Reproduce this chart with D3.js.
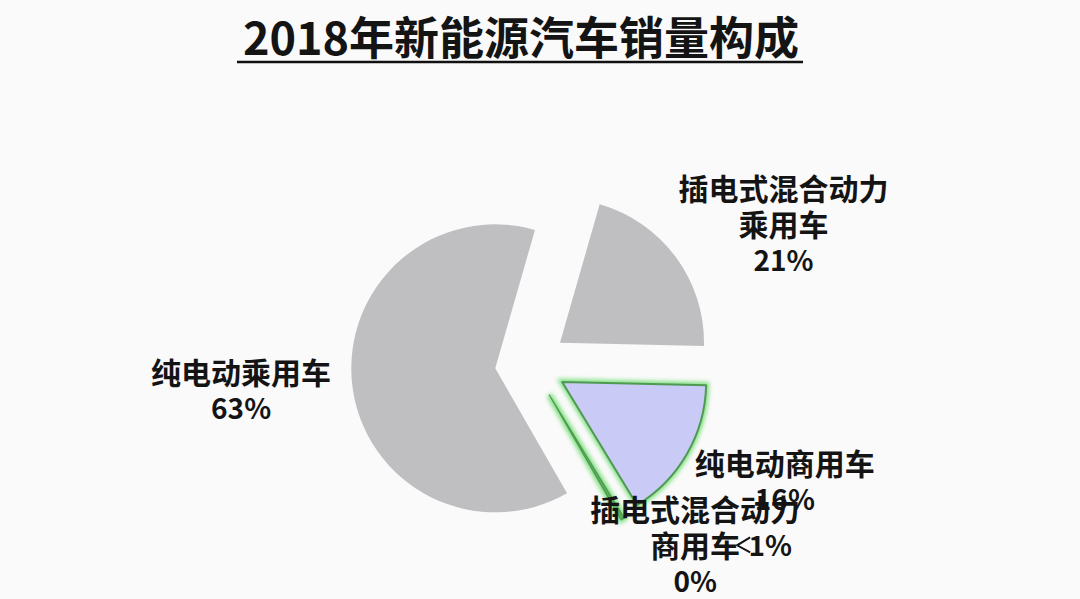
<!DOCTYPE html>
<html>
<head>
<meta charset="utf-8">
<script src="https://cdn.jsdelivr.net/npm/d3@7"></script>
<style>
  html, body { margin: 0; padding: 0; background: #fafafa; }
  svg { display: block; }
</style>
</head>
<body>
<div id="chart"></div>
<script>
// slices in clockwise order, starting from the top-right cut
const categories = ["插电式混合动力乘用车", "纯电动商用车", "插电式混合动力商用车", "纯电动乘用车"];
const nameLines = [["插电式混合动力", "乘用车"], ["纯电动商用车"], ["插电式混合动力", "商用车"], ["纯电动乘用车"]];
const shares = [21, 16, 0.4, 63];
const extraNote = "1%";
const title = "2018年新能源汽车销量构成";

const width = 1080;
const height = 599;
const cx = 531, cy = 364;
const radius = 144;
const explode = 36;
const labelRadius = 285;
// nudges so the label blocks sit where the original had them
const labelShift = [[23, 28], [7, -26], [19, -65], [-7, -9]];

const font = "'Noto Sans CJK SC', 'Noto Sans', sans-serif";

const svg = d3.select("#chart").append("svg")
    .attr("width", width)
    .attr("height", height)
    .style("background", "#fafafa");

const defs = svg.append("defs");
const glow = defs.append("filter")
    .attr("id", "glow")
    .attr("x", "-20%").attr("y", "-20%")
    .attr("width", "140%").attr("height", "140%");
glow.append("feGaussianBlur").attr("stdDeviation", 2.2);

// title
svg.append("text")
    .attr("x", 521)
    .attr("y", 55)
    .attr("text-anchor", "middle")
    .style("font", `bold 45px ${font}`)
    .attr("fill", "#141414")
    .text(title);
svg.append("line")
    .attr("x1", 237).attr("x2", 803)
    .attr("y1", 62).attr("y2", 62)
    .attr("stroke", "#111")
    .attr("stroke-width", 2.5);

const pie = d3.pie()
    .sort(null)
    .value(d => d)
    .startAngle(16 * Math.PI / 180)
    .endAngle(376 * Math.PI / 180);

const arcs = pie(shares);
const arc = d3.arc().innerRadius(0).outerRadius(radius);
const labelArc = d3.arc().innerRadius(labelRadius).outerRadius(labelRadius);

function offset(d) {
  const a = (d.startAngle + d.endAngle) / 2;
  return [explode * Math.sin(a), -explode * Math.cos(a)];
}

const g = svg.append("g").attr("transform", `translate(${cx},${cy})`);

const slice = g.selectAll("g.slice")
  .data(arcs)
  .join("g")
    .attr("class", "slice")
    .attr("transform", d => `translate(${offset(d)})`);

// green glow behind the highlighted commercial slices
slice.filter((d, i) => i === 1 || i === 2)
  .append("path")
    .attr("d", arc)
    .attr("fill", "none")
    .attr("stroke", "#7fe07f")
    .attr("stroke-width", 6)
    .attr("filter", "url(#glow)");

slice.append("path")
    .attr("d", arc)
    .attr("fill", (d, i) => i === 1 ? "#c9cbf6" : i === 2 ? "#5dab5d" : "#bfbec1")
    .attr("stroke", (d, i) => (i === 1 || i === 2) ? "#4f9a52" : "none")
    .attr("stroke-width", (d, i) => i === 1 ? 2 : i === 2 ? 1.2 : 0)
    .attr("stroke-linejoin", "round");

// labels
const lineH = 36;
const labels = svg.append("g")
    .attr("transform", `translate(${cx},${cy})`)
    .style("font", `bold 30px ${font}`)
    .attr("fill", "#141414")
    .attr("text-anchor", "middle");

arcs.forEach((d, i) => {
  const [lx, ly] = labelArc.centroid(d);
  const x = lx + labelShift[i][0];
  const y = ly + labelShift[i][1];
  const lines = nameLines[i].concat([Math.round(d.data) + "%"]);
  const top = y - (lines.length - 1) * lineH / 2;
  const t = labels.append("text")
      .attr("x", x)
      .attr("dominant-baseline", "central");
  lines.forEach((s, k) => {
    t.append("tspan")
        .attr("x", x)
        .attr("y", top + k * lineH)
        .style("font-size", k === lines.length - 1 ? "28px" : null)
        .text(s);
  });
  if (i === 2) {
    // stray "1%" tag with its short leader, beside the 商用车 line
    const ny = top + lineH;
    labels.append("path")
        .attr("d", `M${x + 55},${ny - 7}L${x + 42},${ny + 1}L${x + 55},${ny + 8}`)
        .attr("fill", "none")
        .attr("stroke", "#141414")
        .attr("stroke-width", 2);
    labels.append("text")
        .attr("x", x + 75)
        .attr("y", ny)
        .attr("dominant-baseline", "central")
        .style("font-size", "28px")
        .text(extraNote);
  }
});
</script>
</body>
</html>
